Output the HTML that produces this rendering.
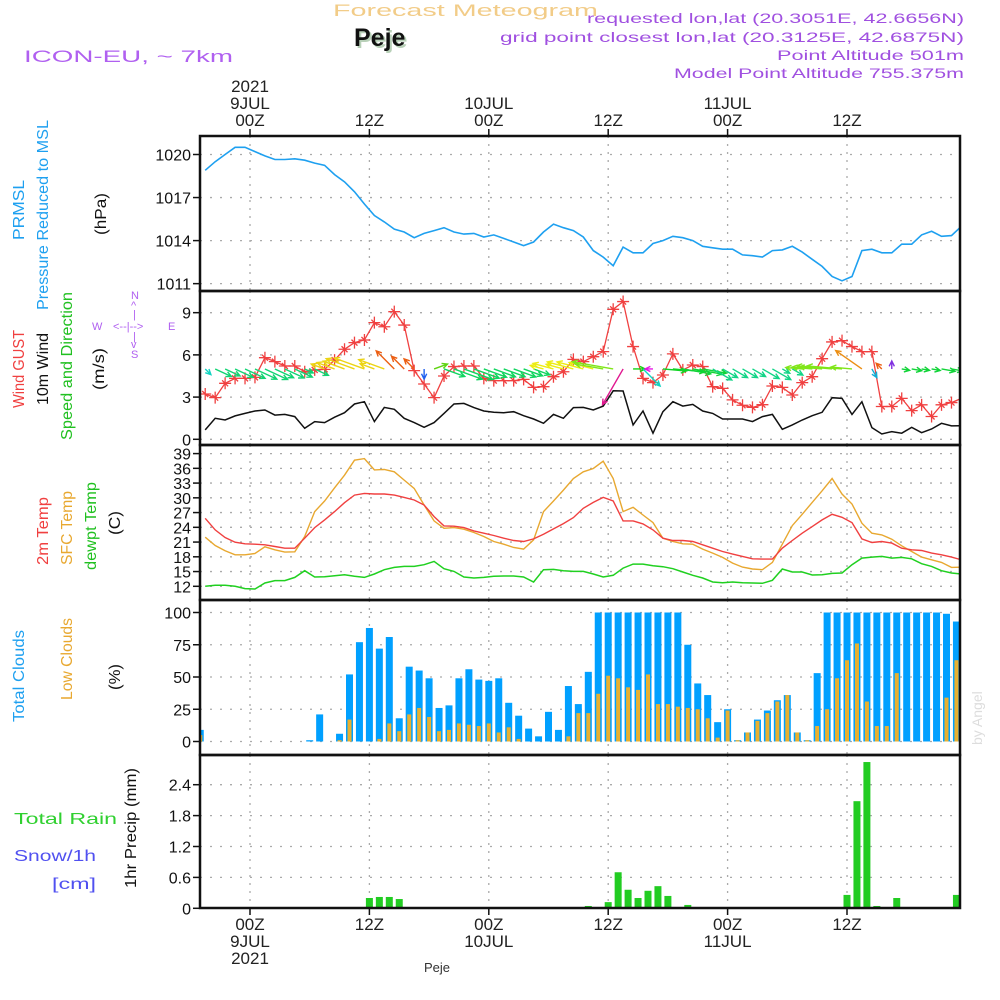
<!DOCTYPE html>
<html><head><meta charset="utf-8"><style>
html,body{margin:0;padding:0;background:#fff;width:1000px;height:1000px;overflow:hidden}
svg{display:block}
text{font-family:"Liberation Sans",sans-serif}
</style></head><body>
<svg id="chart" width="1000" height="1000" viewBox="0 0 1000 1000" xmlns="http://www.w3.org/2000/svg">
<text x="333" y="16" font-size="17" fill="#f2cc88" textLength="265" lengthAdjust="spacingAndGlyphs">Forecast Meteogram</text>
<text x="356" y="48" font-family="Liberation Serif" font-weight="bold" font-size="25" fill="#b8d0b8">Peje</text>
<text x="354" y="46" font-family="Liberation Serif" font-weight="bold" font-size="25" fill="#111">Peje</text>
<text x="24" y="62" font-size="17" fill="#b060f0" textLength="209" lengthAdjust="spacingAndGlyphs">ICON-EU, ~ 7km</text>
<g fill="#a050e0" font-size="14" text-anchor="end">
<text x="964" y="23" textLength="377" lengthAdjust="spacingAndGlyphs">requested lon,lat (20.3051E, 42.6656N)</text>
<text x="964" y="42" textLength="464" lengthAdjust="spacingAndGlyphs">grid point closest lon,lat (20.3125E, 42.6875N)</text>
<text x="964" y="60" textLength="187" lengthAdjust="spacingAndGlyphs">Point Altitude 501m</text>
<text x="964" y="78" textLength="290" lengthAdjust="spacingAndGlyphs">Model Point Altitude 755.375m</text>
</g>
<g id="labels" font-size="16">
<text transform="translate(24,240) rotate(-90)" fill="#1ea0f0" textLength="60" lengthAdjust="spacingAndGlyphs">PRMSL</text>
<text transform="translate(48,310) rotate(-90)" fill="#1ea0f0" textLength="190" lengthAdjust="spacingAndGlyphs">Pressure Reduced to MSL</text>
<text transform="translate(106,235) rotate(-90)" fill="#111" textLength="42" lengthAdjust="spacingAndGlyphs">(hPa)</text>
<text transform="translate(24,408) rotate(-90)" fill="#f04040" textLength="78" lengthAdjust="spacingAndGlyphs">Wind GUST</text>
<text transform="translate(48,405) rotate(-90)" fill="#111" textLength="72" lengthAdjust="spacingAndGlyphs">10m Wind</text>
<text transform="translate(72,440) rotate(-90)" fill="#20c020" textLength="148" lengthAdjust="spacingAndGlyphs">Speed and Direction</text>
<text transform="translate(104,390) rotate(-90)" fill="#111" textLength="42" lengthAdjust="spacingAndGlyphs">(m/s)</text>
<g fill="#b060f0" font-size="11">
<text x="131" y="299">N</text><text x="131" y="309">^</text><text x="133" y="318">|</text>
<text x="92" y="330">W</text><text x="113" y="330">&lt;--|--&gt;</text><text x="168" y="330">E</text>
<text x="133" y="340">|</text><text x="131" y="348">v</text><text x="131" y="358">S</text>
</g>
<text transform="translate(48,565) rotate(-90)" fill="#f04040" textLength="68" lengthAdjust="spacingAndGlyphs">2m Temp</text>
<text transform="translate(72,565) rotate(-90)" fill="#e8a830" textLength="74" lengthAdjust="spacingAndGlyphs">SFC Temp</text>
<text transform="translate(96,570) rotate(-90)" fill="#20c020" textLength="88" lengthAdjust="spacingAndGlyphs">dewpt Temp</text>
<text transform="translate(120,535) rotate(-90)" fill="#111" textLength="24" lengthAdjust="spacingAndGlyphs">(C)</text>
<text transform="translate(24,722) rotate(-90)" fill="#1ea0f0" textLength="92" lengthAdjust="spacingAndGlyphs">Total Clouds</text>
<text transform="translate(72,700) rotate(-90)" fill="#e8a830" textLength="82" lengthAdjust="spacingAndGlyphs">Low Clouds</text>
<text transform="translate(120,690) rotate(-90)" fill="#111" textLength="26" lengthAdjust="spacingAndGlyphs">(%)</text>
<text x="14" y="824" fill="#30d030" textLength="103" lengthAdjust="spacingAndGlyphs">Total   Rain</text>
<text x="14" y="861" fill="#5050f0" textLength="82" lengthAdjust="spacingAndGlyphs">Snow/1h</text>
<text x="52" y="889" fill="#5050f0" textLength="44" lengthAdjust="spacingAndGlyphs">[cm]</text>
<text transform="translate(136,888) rotate(-90)" fill="#111" textLength="120" lengthAdjust="spacingAndGlyphs">1hr Precip (mm)</text>
<text transform="translate(982,745) rotate(-90)" fill="#ddd" font-family="Liberation Serif" font-size="14">by Angel</text>
<text x="424" y="972" font-family="Liberation Serif" font-size="13" fill="#333">Peje</text>
</g>
<g id="grid"></g><g id="marks"></g><g id="frames"></g><g id="axes"></g>
</svg>
<script>
// time index i = 0..76 (hourly, starting 19Z 8 JUL)
const pressure=[1018.9,1019.5,1020.0,1020.5,1020.5,1020.2,1019.9,1019.65,1019.65,1019.7,1019.6,1019.4,1019.25,1018.6,1018.1,1017.4,1016.55,1015.75,1015.3,1014.8,1014.6,1014.2,1014.5,1014.7,1014.9,1014.6,1014.45,1014.5,1014.25,1014.4,1014.15,1013.9,1013.65,1013.9,1014.6,1015.15,1014.9,1014.7,1014.25,1013.3,1012.85,1012.25,1013.55,1013.15,1013.15,1013.8,1014.0,1014.3,1014.2,1014.0,1013.6,1013.5,1013.4,1013.4,1013.0,1012.95,1012.85,1013.3,1013.35,1013.6,1013.2,1012.7,1012.2,1011.5,1011.2,1011.5,1013.3,1013.4,1013.15,1013.15,1013.75,1013.75,1014.4,1014.65,1014.3,1014.35,1015.0];
const gust=[3.22,2.96,3.98,4.33,4.33,4.4,5.8,5.52,5.21,5.21,4.8,4.93,4.97,5.63,6.4,6.87,7.06,8.29,8.0,9.07,8.12,4.88,3.93,2.96,4.5,5.17,5.21,5.21,4.33,4.17,4.17,4.17,4.26,3.69,3.74,4.45,4.8,5.68,5.52,5.87,6.23,9.24,9.79,6.59,4.33,4.03,4.57,6.07,4.93,5.28,5.17,3.74,3.62,2.8,2.42,2.27,2.46,3.79,3.69,3.15,4.03,4.45,5.73,6.92,7.01,6.59,6.23,6.23,2.33,2.33,2.91,2.04,2.45,1.62,2.45,2.61,2.91];
const windSpeed=[0.67,1.49,1.37,1.66,1.84,2.01,2.08,1.72,1.77,1.61,0.78,1.26,1.19,1.57,1.89,2.51,2.67,1.26,2.27,2.13,1.49,1.19,0.85,1.19,1.84,2.51,2.55,2.25,2.01,1.92,1.89,1.96,1.68,1.44,1.14,1.77,1.49,2.25,2.27,2.08,2.36,3.45,3.43,1.02,2.01,0.43,1.96,2.67,2.36,2.48,2.01,1.84,1.44,1.44,1.44,1.26,1.61,1.77,0.71,1.02,1.37,1.68,1.92,2.96,2.91,1.77,2.67,0.83,0.38,0.55,0.43,0.85,0.47,0.73,1.14,0.95,0.97];
const windDir=[135,115,115,115,115,115,115,115,115,115,115,115,290,290,290,290,290,290,290,315,315,315,180,70,110,110,110,110,110,110,110,110,110,110,285,285,285,285,285,285,280,280,210,90,135,270,95,95,100,100,100,120,120,120,120,120,120,120,120,120,275,275,275,275,275,275,305,150,315,0,100,100,100,100,100,100,100];
const temp2m=[25.84,23.47,21.92,20.98,20.64,20.57,20.44,20.1,19.76,19.76,21.79,23.95,25.5,27.19,29.0,30.56,30.9,30.77,30.77,30.56,30.09,29.55,28.54,26.18,24.29,24.22,23.95,23.27,22.8,22.33,21.79,21.32,21.11,21.65,22.6,23.68,24.76,25.97,27.86,29.08,30.09,29.35,25.3,25.3,24.69,23.47,21.79,21.32,21.32,21.11,20.44,19.76,19.09,18.55,18.08,17.6,17.54,17.54,19.76,21.32,22.8,24.15,25.5,26.65,26.04,24.96,21.65,20.91,21.11,20.78,19.76,19.42,19.29,18.75,18.41,17.94,17.4];
const tempSfc=[21.99,20.3,19.22,18.41,18.41,18.68,20.03,19.42,18.95,19.02,22.13,27.19,29.35,32.05,34.61,37.65,37.99,35.69,35.76,35.29,33.6,31.91,28.54,25.3,23.81,23.95,23.61,22.94,22.13,21.11,20.57,19.9,19.56,21.45,27.19,29.35,31.58,33.94,35.29,35.96,37.45,33.94,27.19,28.07,26.51,24.96,21.79,21.11,20.64,20.57,19.56,18.75,17.87,16.72,15.91,15.51,15.38,16.86,20.57,24.35,26.65,29.08,31.44,33.94,30.77,28.74,24.83,22.8,22.46,21.58,20.24,19.09,17.94,17.4,16.86,15.85,15.91];
const dewpt=[12.0,12.2,12.2,12.0,11.53,11.46,12.68,13.15,13.15,13.82,15.17,13.89,13.96,14.16,14.36,14.03,13.82,14.5,15.38,15.85,16.05,16.05,16.39,17.06,15.58,15.04,13.89,13.69,13.82,14.03,14.09,14.09,13.89,12.88,15.38,15.44,15.17,15.04,15.04,14.5,13.89,14.23,15.71,16.52,16.52,16.19,15.98,15.58,14.9,14.23,13.69,12.88,12.74,12.88,12.74,12.68,12.61,13.22,15.51,14.9,14.9,14.3,14.36,14.63,14.7,16.39,17.74,17.94,18.08,17.74,17.87,17.6,16.59,16.05,15.17,14.7,14.5];
const totalCloud=[9,0,0,0,0,0,0,0,0,0,0,1,21,0,6,52,77,88,72,81,18,58,55,49,26,28,49,56,48,47,49,30,20,10,4,23,9,43,29,54,100,100,100,100,100,100,100,100,100,75,45,36,15,25,1,7,17,24,32,36,7,1,53,100,100,100,100,100,100,100,100,100,100,100,100,99,93];
const lowCloud=[5,0,0,0,0,0,0,0,0,0,0,0,0,0,1,17,0,0,2,14,8,21,26,19,8,9,14,13,12,14,7,11,2,0,0,0,0,4,22,22,37,51,49,42,40,52,29,29,27,26,25,18,3,24,1,7,16,22,31,36,7,1,12,25,49,63,76,31,12,12,53,0,0,0,0,34,63];
const precip=[0,0,0,0,0,0,0,0,0,0,0,0,0,0,0,0,0,0.2,0.22,0.22,0.18,0.01,0,0.01,0,0,0,0,0,0,0,0,0,0,0,0,0,0,0,0.045,0,0.12,0.7,0.36,0.2,0.34,0.43,0.24,0,0.065,0,0,0,0,0,0,0,0,0,0,0,0,0,0,0,0.26,2.08,2.84,0.045,0,0.2,0,0,0,0,0,0.26];
const pressTicks=[1020,1017,1014,1011];
const windTicks=[0,3,6,9];
const tempTicks=[12,15,18,21,24,27,30,33,36,39];
const cloudTicks=[0,25,50,75,100];
const precipTicks=[0,0.6,1.2,1.8,2.4];
const timeHours=[0,12,24,36,48,60];
const timeTopLabels=[["2021","9JUL","00Z"],["","","12Z"],["","10JUL","00Z"],["","","12Z"],["","11JUL","00Z"],["","","12Z"]];
const timeBotLabels=[["00Z","9JUL","2021"],["12Z","",""],["00Z","10JUL",""],["12Z","",""],["00Z","11JUL",""],["12Z","",""]];

const NS="http://www.w3.org/2000/svg";
const L=200,R=960;
function xH(h){return 250+9.95*h;}
function xBar(i){return xH(i-5);}
function xLine(i){return xH(i-4.5);}
const yP=v=>154.5+(1020-v)*14.35;
const yW=v=>439.3-v*14.07;
const yT=v=>586.3-(v-12)*4.915;
const yC=v=>741.5-v*1.29;
const yR=v=>908.3-v*51.5;
const panels=[{t:136,b:291,f:yP,ticks:pressTicks,name:'pressure'},{t:291,b:445,f:yW,ticks:windTicks,name:'wind'},{t:445,b:600,f:yT,ticks:tempTicks,name:'temperature'},{t:600,b:755,f:yC,ticks:cloudTicks,name:'clouds'},{t:755,b:908,f:yR,ticks:precipTicks,name:'precip'}];
function el(tag,attrs,parent){const e=document.createElementNS(NS,tag);for(const k in attrs)e.setAttribute(k,attrs[k]);parent.appendChild(e);return e;}
const grid=document.getElementById('grid'),marks=document.getElementById('marks'),frames=document.getElementById('frames'),axes=document.getElementById('axes');
const defs=el('defs',{},document.getElementById('chart'));
panels.forEach((p,k)=>{
  const cp=el('clipPath',{id:'clip'+k},defs);el('rect',{x:L,y:p.t,width:R-L,height:p.b-p.t},cp);
  timeHours.forEach(h=>{const g=el('line',{x1:xH(h),x2:xH(h),y1:p.t,y2:p.b,stroke:'#aaa','stroke-width':1.3,'stroke-dasharray':'2,6'},grid);
    
    });
  p.ticks.forEach(v=>{const y=p.f(v);
    const g=el('line',{x1:L,x2:R,y1:y,y2:y,stroke:'#aaa','stroke-width':1.3,'stroke-dasharray':'2,8'},grid);
    
    
    const tk=el('line',{x1:L-7,x2:L,y1:y,y2:y,stroke:'#111','stroke-width':1.5},axes);
    
    
    const t=el('text',{x:L-9,y:y+6,'text-anchor':'end','font-size':16,fill:'#111'},axes);
    
    
    t.textContent=String(v);});
  const fr=el('rect',{x:L,y:p.t,width:R-L,height:p.b-p.t,fill:'none',stroke:'#111','stroke-width':2.5},frames);
  
  
});
timeHours.forEach((h,k)=>{const x=xH(h);
  const t1=el('line',{x1:x,x2:x,y1:129,y2:136,stroke:'#111','stroke-width':1.5},axes);
  
  
  const t2=el('line',{x1:x,x2:x,y1:908,y2:915,stroke:'#111','stroke-width':1.5},axes);
  
  
  timeTopLabels[k].forEach((s,j)=>{if(!s)return;const t=el('text',{x:x,y:92+j*17,'text-anchor':'middle','font-size':17,fill:'#222'},axes);
    
    
    t.textContent=s;});
  timeBotLabels[k].forEach((s,j)=>{if(!s)return;const t=el('text',{x:x,y:930+j*17,'text-anchor':'middle','font-size':17,fill:'#222'},axes);
    
    
    t.textContent=s;});
});
function line(arr,f,color,name,k,w){
  const pts=arr.map((v,i)=>xLine(i).toFixed(1)+','+f(v).toFixed(1)).join(' ');
  const pl=el('polyline',{points:pts,fill:'none',stroke:color,'stroke-width':w||1.4,'clip-path':'url(#clip'+k+')'},marks);
  
  
}
line(pressure,yP,'#1ea0f0','pressure-line',0,1.6);
line(windSpeed,yW,'#111','wind-speed-line',1,1.5);
line(gust,yW,'#f04040','wind-gust-line',1,1.3);
gust.forEach((v,i)=>{const x=xLine(i),y=yW(v);
  if(x>R)return;
  const m=el('path',{d:`M${x-6},${y}H${x+6}M${x},${y-6}V${y+6}M${x-3},${y-3}L${x+3},${y+3}`,stroke:'#f04040','stroke-width':1.3},marks);
  
  });
function dirColor(a){
  if(a>=60&&a<160)return `hsl(${120+(a-90)*1.2},85%,45%)`;
  if(a>=160&&a<240)return a<195?'#2060f0':'#e01890';
  if(a>=240&&a<330)return a<285?`hsl(${a<275?300:90},80%,50%)`:`hsl(${60-(a-285)*1.3},85%,50%)`;
  return '#8030e0';}
windDir.forEach((a,i)=>{const x0=xLine(i),y0=yW(5);
  if(x0>R)return;
  const len=Math.max(8,windSpeed[i]*12),r=a*Math.PI/180;
  const x1=x0+Math.sin(r)*len,y1=y0-Math.cos(r)*len;
  const ang=Math.atan2(y1-y0,x1-x0),hl=6;
  const c=dirColor(a);
  const d=`M${x0},${y0}L${x1},${y1}M${x1-hl*Math.cos(ang-0.45)},${y1-hl*Math.sin(ang-0.45)}L${x1},${y1}L${x1-hl*Math.cos(ang+0.45)},${y1-hl*Math.sin(ang+0.45)}`;
  const ar=el('path',{d:d,stroke:c,'stroke-width':1.4,fill:'none','clip-path':'url(#clip1)'},marks);
  
  });
line(dewpt,yT,'#20d020','dewpoint-line',2,1.5);
line(tempSfc,yT,'#e8a830','sfc-temp-line',2,1.4);
line(temp2m,yT,'#f04040','temp-2m-line',2,1.4);
totalCloud.forEach((v,i)=>{const x=xBar(i);
  const b=el('rect',{x:x-3.5,y:yC(v),width:7,height:Math.max(0,yC(0)-yC(v)),fill:'#00a0ff','clip-path':'url(#clip3)'},marks);
  
  
  const lv=lowCloud[i];
  const b2=el('rect',{x:x-2,y:yC(lv),width:4,height:Math.max(0,yC(0)-yC(lv)),fill:'#e8b030','clip-path':'url(#clip3)'},marks);
  
  });
precip.forEach((v,i)=>{if(v<=0)return;const x=xBar(i);
  const b=el('rect',{x:x-3.5,y:yR(v),width:7,height:yR(0)-yR(v),fill:'#22cc22','clip-path':'url(#clip4)'},marks);
  
  });
</script>
</body></html>
